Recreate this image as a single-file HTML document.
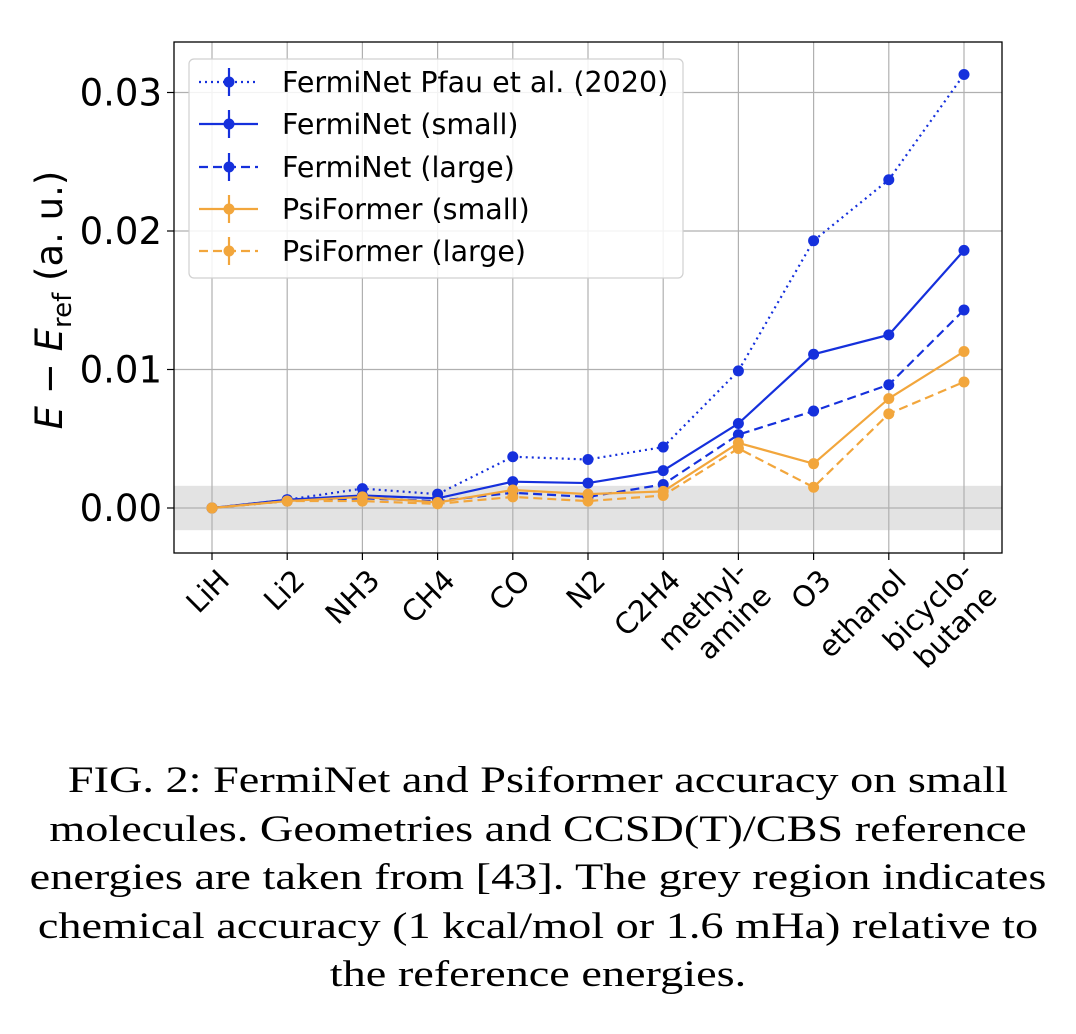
<!DOCTYPE html>
<html><head><meta charset="utf-8">
<style>
html,body{margin:0;padding:0;background:#fff;width:1076px;height:1034px;overflow:hidden}
.cap{position:absolute;left:0;width:1076px;text-align:center;font-family:"Liberation Serif",serif;font-size:37px;line-height:48.5px;top:757px;color:#000;transform:scaleX(1.25);transform-origin:538px 0}
</style></head>
<body>
<svg id="chart" width="1076" height="740" style="position:absolute;left:0;top:0" xmlns="http://www.w3.org/2000/svg" font-family="DejaVu Sans, sans-serif"></svg>
<div class="cap">FIG. 2: FermiNet and Psiformer accuracy on small<br>molecules. Geometries and CCSD(T)/CBS reference<br>energies are taken from [43]. The grey region indicates<br>chemical accuracy (1 kcal/mol or 1.6 mHa) relative to<br>the reference energies.</div>
<script>
const categories=["LiH","Li2","NH3","CH4","CO","N2","C2H4","methyl-\namine","O3","ethanol","bicyclo-\nbutane"];
const pfau=[0,0.0006,0.0014,0.001,0.0037,0.0035,0.0044,0.0099,0.0193,0.0237,0.0313];
const fermiSmall=[0,0.0006,0.0009,0.0007,0.0019,0.0018,0.0027,0.0061,0.0111,0.0125,0.0186];
const fermiLarge=[0,0.0005,0.0007,0.0005,0.0011,0.0008,0.0017,0.0053,0.0070,0.0089,0.0143];
const psiSmall=[0,0.0005,0.0008,0.0004,0.0013,0.001,0.0012,0.0047,0.0032,0.0079,0.0113];
const psiLarge=[0,0.0005,0.0005,0.0003,0.0008,0.0005,0.0009,0.0043,0.0015,0.0068,0.0091];
const yTicks=[0,0.01,0.02,0.03];
const yTickLabels=["0.00","0.01","0.02","0.03"];
const chemAcc=0.0016;
const legendLabels=["FermiNet Pfau et al. (2020)","FermiNet (small)","FermiNet (large)","PsiFormer (small)","PsiFormer (large)"];

const NS="http://www.w3.org/2000/svg";
const svg=document.getElementById('chart');
const L=174,R=1002,T=42,B=553;
const x=i=>212+i*(964-212)/(categories.length-1);
const y=v=>508-v*13850;
function mk(tag,attrs,parent){const e=document.createElementNS(NS,tag);for(const k in attrs)e.setAttribute(k,attrs[k]);(parent||svg).appendChild(e);return e;}
const BLUE="#1530dc",ORANGE="#f2a63c";

let band=mk('rect',{x:L,y:y(chemAcc),width:R-L,height:y(-chemAcc)-y(chemAcc),fill:'#e3e3e3'});


categories.forEach((c,i)=>{let g=mk('line',{x1:x(i),x2:x(i),y1:T,y2:B,stroke:'#b0b0b0','stroke-width':1.2});

});
yTicks.forEach((t,i)=>{let g=mk('line',{x1:L,x2:R,y1:y(t),y2:y(t),stroke:'#b0b0b0','stroke-width':1.2});


mk('line',{x1:L-7,x2:L,y1:y(t),y2:y(t),stroke:'#000','stroke-width':1.2});
let tl=mk('text',{x:L-12,y:y(t)+13,'text-anchor':'end','font-size':37});tl.textContent=yTickLabels[i];

});
categories.forEach((c,i)=>{mk('line',{x1:x(i),x2:x(i),y1:B,y2:B+7,stroke:'#000','stroke-width':1.2});
const lines=c.split("\n");
let t=mk('text',{'font-size':29,'text-anchor':'end',transform:`translate(${x(i)+12},${B+22}) rotate(-45)`});


lines.forEach((ln,j)=>{let s=mk('tspan',{x:0,dy:j==0?(lines.length>1?-2:10):34},t);s.textContent=ln;});});
const series=[[pfau,BLUE,'2,4','series-ferminet-pfau'],[fermiSmall,BLUE,'','series-ferminet-small'],[fermiLarge,BLUE,'9,5','series-ferminet-large'],[psiSmall,ORANGE,'','series-psiformer-small'],[psiLarge,ORANGE,'9,5','series-psiformer-large']];
series.forEach(([d,col,dash,name])=>{
 const g=mk('g',{});
 
 
 mk('polyline',{points:d.map((v,i)=>x(i)+','+y(v)).join(' '),fill:'none',stroke:col,'stroke-width':2.2,'stroke-dasharray':dash},g);
 d.forEach((v,i)=>{let c=mk('circle',{cx:x(i),cy:y(v),r:5.5,fill:col},g);
 
 });
});
mk('rect',{x:L,y:T,width:R-L,height:B-T,fill:'none',stroke:'#000','stroke-width':1.3});
const lg=mk('g',{});


mk('rect',{x:189,y:59,width:494,height:219,rx:5,fill:'rgba(255,255,255,0.85)',stroke:'#d0d0d0','stroke-width':1.2},lg);
legendLabels.forEach((lab,i)=>{const ly=[82,124,167,209,251][i];const s=series[i];
 const e=mk('g',{},lg);
 
 
 mk('line',{x1:199,x2:258,y1:ly,y2:ly,stroke:s[1],'stroke-width':2.2,'stroke-dasharray':s[2]},e);
 mk('line',{x1:229,x2:229,y1:ly-14,y2:ly+14,stroke:s[1],'stroke-width':2.2},e);
 mk('circle',{cx:229,cy:ly,r:5.5,fill:s[1]},e);
 let t=mk('text',{x:282,y:ly+10,'font-size':28.5},e);t.textContent=lab;});
const yl=mk('text',{transform:'translate(62,300) rotate(-90)','text-anchor':'middle','font-size':37});


yl.innerHTML='<tspan font-style="italic">E</tspan> − <tspan font-style="italic">E</tspan><tspan font-size="26" dy="9">ref</tspan><tspan dy="-9"> (a. u.)</tspan>';
</script>
</body></html>
